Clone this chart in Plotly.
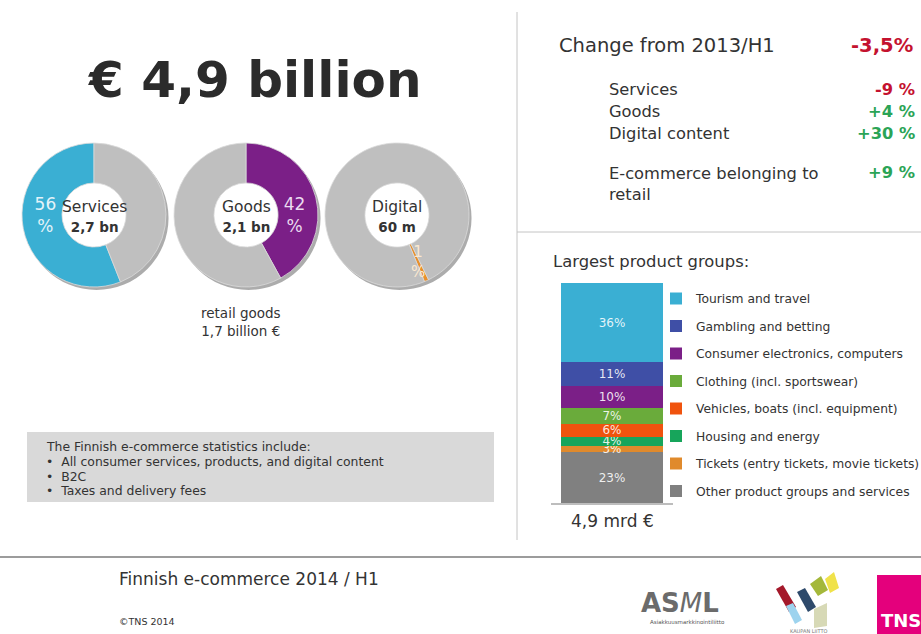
import plotly.graph_objects as go
import math

W, H = 921, 634
FONT = "DejaVu Sans, Verdana, sans-serif"

# ---------------- data ----------------
headline = "€ 4,9 billion"
donut_names = ["Services", "Goods", "Digital"]
donut_amounts = ["2,7 bn", "2,1 bn", "60 m"]
donut_shares = [56, 42, 1]
donut_colors = ["#3aafd3", "#7b1f87", "#e8902c"]
donut_text_colors = ["#e3f3f9", "#eadcf0", "#fbe8cf"]
donut_side = ["left", "right", "right"]
digital_offset_deg = 154
rest_color = "#bfbfbf"

change_title = "Change from 2013/H1"
change_total = "-3,5%"
change_labels = ["Services", "Goods", "Digital content"]
change_values = ["-9 %", "+4 %", "+30 %"]
retail_label = "E-commerce belonging to<br>retail"
retail_value = "+9 %"

groups = ["Tourism and travel", "Gambling and betting", "Consumer electronics, computers",
          "Clothing (incl. sportswear)", "Vehicles, boats (incl. equipment)", "Housing and energy",
          "Tickets (entry tickets, movie tickets)", "Other product groups and services"]
group_shares = [36, 11, 10, 7, 6, 4, 3, 23]
group_colors = ["#3aafd3", "#3f4fa6", "#7b1f87", "#6aab3b", "#f0530e", "#17a55b", "#e08a2c", "#808080"]
bar_total = "4,9 mrd €"

box_lines = ["The Finnish e-commerce statistics include:",
             "•  All consumer services, products, and digital content",
             "•  B2C",
             "•  Taxes and delivery fees"]
retail_note = "retail goods<br>1,7 billion €"
footer_title = "Finnish e-commerce 2014 / H1"
footer_copy = "©TNS 2014"

RED = "#c4122f"
GREEN = "#2ba456"
TXT = "#333333"

def fx(x):
    return x / W

def fy(y):
    return 1 - y / H

fig = go.Figure()

# ---------------- donuts ----------------
centers = [(94, 215), (246, 215), (397, 215)]
R = 72
HOLE = 0.445
rotations = []
for i in range(3):
    share = donut_shares[i]
    if i == 2:
        rot = digital_offset_deg
    elif donut_side[i] == "left":
        rot = -share * 3.6
    else:
        rot = 0
    rotations.append(rot)

for i in range(3):
    cx, cy = centers[i]
    fig.add_trace(go.Pie(
        values=[1], labels=["s"], hole=0.55, sort=False,
        marker=dict(colors=["rgba(70,70,70,0.45)"], line=dict(width=0)),
        textinfo="none", hoverinfo="skip", showlegend=False,
        domain=dict(x=[fx(cx - R + 2.5), fx(cx + R + 2.5)], y=[fy(cy + R + 3), fy(cy - R + 3)])))
    share = donut_shares[i]
    txt = [f"{share}<br>%", ""] if i < 2 else ["", ""]
    fig.add_trace(go.Pie(
        values=[share, 100 - share], labels=[donut_names[i], "Other"],
        hole=HOLE, sort=False, direction="clockwise", rotation=rotations[i],
        marker=dict(colors=[donut_colors[i], rest_color], line=dict(width=0.8, color="#dadada")),
        text=txt, textinfo="text", textposition="inside", insidetextorientation="horizontal",
        textfont=dict(size=17, color=donut_text_colors[i], family=FONT),
        hoverinfo="label+value", showlegend=False,
        domain=dict(x=[fx(cx - R), fx(cx + R)], y=[fy(cy + R), fy(cy - R)])))

annotations = []

def ann(x, y, text, size, color=TXT, xanchor="left", yanchor="middle", align="left"):
    annotations.append(dict(x=fx(x), y=fy(y), xref="paper", yref="paper", text=text,
                            showarrow=False, xanchor=xanchor, yanchor=yanchor, align=align,
                            font=dict(size=size, color=color, family=FONT)))

for i in range(3):
    cx, cy = centers[i]
    ann(cx, cy + 1, f"{donut_names[i]}<br><b><span style='font-size:13.5px'>{donut_amounts[i]}</span></b>",
        15.5, TXT, "center", "middle", "center")

# label of the thin digital slice, placed at the slice's mid-angle
share = donut_shares[2]
a = math.radians(rotations[2] + share / 100 * 360 / 2)
rm = R * (1 + HOLE) / 2
ann(centers[2][0] + rm * math.sin(a), centers[2][1] - rm * math.cos(a), "1<br>%", 15,
    donut_text_colors[2], "center", "middle", "center")

# ---------------- stacked bar ----------------
for k, (g, s, c) in reversed(list(enumerate(zip(groups, group_shares, group_colors)))):
    fig.add_trace(go.Bar(
        x=[0], y=[s], name=g, legendgroup=g, legendrank=k + 1, width=0.836,
        marker=dict(color=c, line=dict(width=0)),
        text=[f"{s}%"], textposition="inside", insidetextanchor="middle",
        constraintext="none", textangle=0,
        textfont=dict(size=12, color="rgba(255,255,255,0.88)", family=FONT),
        hoverinfo="name+y"))

fig.update_layout(
    barmode="stack",
    xaxis=dict(domain=[fx(551), fx(673)], range=[-0.5, 0.5], showticklabels=False,
               showgrid=False, zeroline=False, showline=True, linecolor="#bdbdbd",
               linewidth=2, ticks="", fixedrange=True),
    yaxis=dict(domain=[fy(503), fy(283)], range=[0, 100], visible=False, fixedrange=True),
)

# ---------------- texts ----------------
ann(254, 80, f"<b>{headline}</b>", 50, "#2b2b2b", "center")
ann(241, 322, retail_note, 13.5, TXT, "center", "middle", "center")

ann(557, 45, change_title, 19.5, TXT)
ann(915, 45, f"<b>{change_total}</b>", 19.5, RED, "right")
for j, (lab, val) in enumerate(zip(change_labels, change_values)):
    y = 89 + 22 * j
    ann(607, y, lab, 16.3, TXT)
    ann(917, y, f"<b>{val}</b>", 16.3, RED if val.startswith("-") else GREEN, "right")
ann(607, 162, retail_label, 16.3, TXT, "left", "top")
ann(917, 172, f"<b>{retail_value}</b>", 16.3, GREEN, "right")

ann(551, 261, "Largest product groups:", 16.4, TXT)
ann(612, 521, bar_total, 17, TXT, "center")

for j, line in enumerate(box_lines):
    ann(44, 447 + 14.6 * j, line, 12.4, TXT)

ann(117, 579, footer_title, 17, TXT)
ann(117, 621, footer_copy, 9.5, TXT)

# logos (as text + simple shapes)
ann(639, 603, "<b>AS</b><i>M</i><b>L</b>", 26, "#6b6b6b")
ann(687, 622, "Asiakkuusmarkkinointiliitto", 5.5, "#555555", "center")
ann(808, 631, "KAUPAN LIITTO", 5, "#777777", "center")
ann(879, 620, "<b>TNS</b>", 18, "#ffffff")

shapes = []
shapes.append(dict(type="rect", xref="paper", yref="paper", x0=fx(27), x1=fx(494),
                   y0=fy(502), y1=fy(432), fillcolor="#d9d9d9", line=dict(width=0), layer="below"))
shapes.append(dict(type="line", xref="paper", yref="paper", x0=fx(517), x1=fx(517),
                   y0=fy(540), y1=fy(12), line=dict(color="#c4c4c4", width=1)))
shapes.append(dict(type="line", xref="paper", yref="paper", x0=fx(517), x1=fx(921),
                   y0=fy(232), y1=fy(232), line=dict(color="#c4c4c4", width=1)))
shapes.append(dict(type="line", xref="paper", yref="paper", x0=0, x1=1,
                   y0=fy(557), y1=fy(557), line=dict(color="#9c9c9c", width=2)))
shapes.append(dict(type="rect", xref="paper", yref="paper", x0=fx(877), x1=fx(925),
                   y0=fy(636), y1=fy(575), fillcolor="#e4007c", line=dict(width=0), layer="below"))

def poly(pts, color):
    d = "M " + " L ".join(f"{fx(x):.5f},{fy(y):.5f}" for x, y in pts) + " Z"
    shapes.append(dict(type="path", xref="paper", yref="paper", path=d,
                       fillcolor=color, line=dict(width=0)))

poly([(776, 589), (783, 585), (796, 607), (789, 612)], "#a4182a")
poly([(786, 606), (793, 603), (802, 620), (795, 624)], "#9dd3ee")
poly([(797, 592), (805, 588), (816, 607), (808, 612)], "#2e4a6b")
poly([(810, 584), (821, 576), (828, 590), (818, 596)], "#a4b83a")
poly([(825, 579), (834, 572), (839, 588), (830, 593)], "#f0e24a")
poly([(814, 609), (827, 603), (827, 626), (814, 628)], "#d7d9b6")

fig.update_layout(
    width=W, height=H,
    margin=dict(l=0, r=0, t=0, b=0, autoexpand=False),
    paper_bgcolor="white", plot_bgcolor="white",
    font=dict(family=FONT, color=TXT),
    annotations=annotations, shapes=shapes,
    showlegend=True,
    legend=dict(x=fx(656), y=fy(284), xanchor="left", yanchor="top",
                traceorder="grouped", tracegroupgap=8.5,
                font=dict(size=12.3, color=TXT, family=FONT),
                bgcolor="rgba(0,0,0,0)", borderwidth=0, itemclick=False),
)

fig.write_html("out.html", config={"displayModeBar": False},
               post_script="document.body.style.margin='0px';document.body.style.overflow='hidden';")
